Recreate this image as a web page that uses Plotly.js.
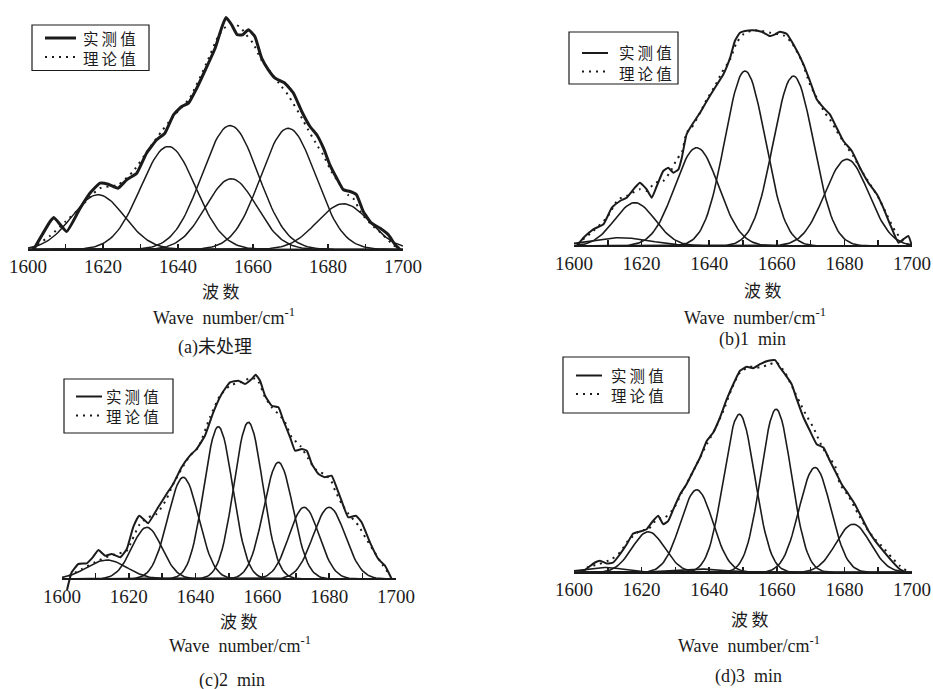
<!DOCTYPE html>
<html><head><meta charset="utf-8">
<script src="https://cdn.plot.ly/plotly-3.0.1.min.js"></script>
<style>html,body{margin:0;padding:0;background:#fff}#chart{width:933px;height:689px}</style>
</head><body><div id="chart"></div>
<script>
// ---------- (a) 未处理 ----------
const aWave = [1601.5,1605.9,1606.9,1610.3,1613.9,1616.5,1619.2,1621.4,1624,1626.3,1629,1631.6,1634.3,1636.5,1638.8,1641,1642.8,1645,1647.7,1649.9,1651.6,1652.8,1654.3,1655.8,1657.2,1658.8,1660.5,1662.3,1664.1,1665.9,1668.5,1670.8,1673,1675.2,1677,1678.8,1680.5,1682.3,1684.1,1685.9,1687.6,1689.4,1691.6,1693.9,1696.1,1697.9,1699.2];
const aMeasured = [0,28,32,18,41.3,56.3,66.3,65.3,61.3,69.7,76.3,96.3,109.7,116.3,134.7,143,146.3,161.3,183,201.3,221.3,232,224.7,214.7,214.7,219.7,213,191.3,179.7,171.3,166.3,156.3,138,123,114.7,101.3,84.7,71.5,59.7,58,54.7,38,26.3,21.3,14.7,4.7,0];
const aFitWave = [1601,1606,1610,1614,1616.5,1619.2,1621.5,1624.1,1628,1632.4,1635.6,1639.1,1643.1,1647.6,1650.7,1652.3,1654.2,1656.4,1658.2,1660,1662.2,1664.2,1667.6,1669.3,1673.3,1674.7,1677.3,1678.7,1680.9,1682.7,1685.3,1686.7,1688.9,1691.6,1694.2,1696.9,1698.7];
const aFit = [1,14,28,42,53,61.3,63,64.7,78,101.3,118,134.7,151.3,186.3,213,221.3,225.3,223,214.7,206.3,189.7,179.7,163,154.7,129.7,119.7,103,94.7,78,68,54.7,51.3,36.3,24.7,16.3,6.3,0.7];
const aPeakCenter = [1618.7,1637.4,1653.9,1654.2,1669.4,1684.1];
const aPeakHeight = [54.7,103,124,70.7,121.3,45.7];
const aPeakWidth  = [7,7.3,7.5,6.8,7.3,7];

// ---------- (b) 1 min ----------
const bWave = [1600.8,1602.8,1605.7,1608.7,1611.2,1613.6,1615.6,1618,1619.5,1621.5,1623,1624.5,1626.4,1627.9,1629.4,1630.9,1631.9,1633.3,1635.3,1637.3,1639.3,1641.7,1644.2,1646.2,1647.6,1649.1,1650.6,1653,1655.5,1658,1659.5,1660.9,1662.9,1664.9,1667.9,1669.8,1671.8,1673.8,1675.7,1677.7,1679.7,1682.2,1684.6,1687.1,1689.6,1691.5,1693.5,1696,1697.4,1698.9,1700];
const bMeasured = [0,8.3,16.7,21.7,38.3,45,48.3,58.3,63.3,56.7,48.3,60,75,78.3,73.3,76.7,88.3,111.7,123.3,133.3,145,158.3,171.7,188.3,205,213.3,215,215.7,214.3,210,211.7,214.3,212.3,201.7,181.7,165,146.7,138.3,131.7,118.3,105,95,78.3,63.3,51.7,38.3,21.7,3.3,6.7,10,0];
const bFitWave = [1601,1605.7,1609.7,1613.1,1615.6,1619.5,1621.5,1624,1626.4,1628.9,1630.4,1631.9,1633.3,1634.8,1637.3,1639.3,1641.7,1643.7,1646.2,1648.1,1650.1,1653,1655.5,1658,1660.4,1662.4,1664.4,1667.4,1669.8,1671.8,1674.2,1675.7,1677.7,1680.2,1682.6,1685.1,1687.6,1690.1,1692.5,1695,1697.4,1699.4];
const bFit = [2,15,28.3,46.7,50,56.7,55,63.3,65,76.7,86.7,93.3,113.3,118.3,133.3,146.7,160,173.3,186.7,203.3,211.7,215.7,215,213.3,211.7,210,203.3,185,161.7,148.3,133.3,126.7,115,101.7,90,75,61.7,48.3,31.7,15,5,0];
const bPeakCenter = [1613.6,1618,1636.3,1650.6,1664.9,1680.7];
const bPeakHeight = [8.3,43.3,98.3,175,170,86.7];
const bPeakWidth  = [9,6,6.5,6,6,6.5];

// ---------- (c) 2 min ----------
const cWave = [1601.5,1602.9,1604.9,1607.4,1609.2,1610.9,1612.9,1614.9,1617.4,1619.4,1621.3,1623.1,1624.9,1625.8,1628.8,1631.3,1633.3,1635.8,1638.3,1640.3,1642.8,1645.3,1647.8,1650.3,1652.8,1654.8,1656.8,1658,1659.3,1660.8,1662.8,1664.8,1666.3,1668.3,1669.8,1671.8,1673.3,1674.8,1676.8,1678.7,1680.7,1682.2,1683.7,1685.7,1688,1689.7,1692.2,1694.7,1696.7,1698.7];
const cMeasured = [-11,6.7,15,15.7,21.7,29,23.3,25,21.7,30,51.7,63.3,58.3,55.7,71.7,85,95,111.7,123.3,130,143.3,166.7,185,196.7,198.3,195,200,204.3,198.3,183.3,173.3,171.7,158.3,141.7,128.3,130,128.3,115,105,101.7,103.3,91.7,78.3,61.7,63.3,56.7,36.7,20,13.3,0];
const cFitWave = [1602,1606,1610,1614.3,1616.3,1619.4,1620.9,1623.3,1625.8,1628.3,1631.3,1633.3,1635.8,1638.3,1640.8,1644.3,1647.3,1650.3,1653.3,1655.8,1658.3,1660.8,1662.8,1665.3,1666.8,1668.8,1671.3,1673.8,1675.8,1678.3,1680.3,1681.8,1683.8,1685.8,1688.8,1690.8,1693.3,1695.8,1698.3];
const cFit = [3,10,17,23.3,25,28.3,38.3,55,61.7,65,80,95,110,123.3,131.7,161.7,183.3,193.3,196.7,200,200,181.7,171.7,163.3,156.7,141.7,133.3,120,110,105,100,88.3,75,65,53.3,41.7,28.3,15,3.3];
const cPeakCenter = [1613.4,1625.4,1636.3,1646.8,1655.8,1664.8,1672.5,1680];
const cPeakHeight = [19,51.7,101.7,152.3,156.7,116.7,71.7,71.7];
const cPeakWidth  = [6,4.5,4.6,4.3,4.3,4.4,4.5,4.8];

// ---------- (d) 3 min ----------
const dWave = [1602.3,1604.2,1606.2,1607.7,1609.7,1611.6,1613.6,1615.6,1617.5,1619.5,1621.5,1623,1624.9,1626.4,1627.9,1629.4,1631.4,1633.3,1635.3,1637.3,1639.3,1641.2,1643.2,1645.2,1647.6,1649.1,1651.1,1653,1655,1657.5,1659.5,1660.9,1662.4,1664.4,1665.9,1667.9,1669.8,1671.8,1673.8,1675.7,1677.2,1679.2,1681.2,1683.1,1685.1,1687.1,1689.1,1691.5,1694,1696.4,1698.4];
const dMeasured = [0,5,10,11.7,9,10,18.3,28.3,39,41,43.3,50,56.7,48.3,51.7,63.3,78.3,88.3,101.7,115,131.7,140,155,173.3,191.7,201.7,205.7,204.3,208.3,211.7,212.3,205,198.3,188.3,173.3,155,141.7,128.3,125,111.7,101.7,88.3,78.3,68.3,55,41.7,31.7,21.7,11.7,3.3,0];
const dFitWave = [1602,1604.4,1607.3,1611.1,1613.6,1616,1619.5,1622,1624.5,1626.9,1629.4,1631.9,1634.3,1636.3,1639.3,1641.7,1644.2,1646.6,1649.1,1652,1655,1657.9,1659.9,1662.4,1664.9,1666.8,1668.8,1670.8,1672.8,1674.7,1677.2,1678.7,1681.2,1684.1,1686.1,1688.6,1691,1694,1696.4,1698.4];
const dFit = [1,5.7,8.3,13.3,20,31.7,41.7,43.3,53.3,55,63.3,80,95,108.3,128.3,143.3,161.7,183.3,200,205.7,205,208.3,210,200,183.3,170,156.7,145,130,118.3,106.7,88.3,76.7,58.3,46.7,35,26.7,15,6.7,1.7];
const dPeakCenter = [1609,1622,1636.3,1636.3,1648.9,1659.8,1671.3,1682.6];
const dPeakHeight = [5,40.7,3.5,82.7,158.3,163.3,105,48.3];
const dPeakWidth  = [6,4.8,8,4.8,4.6,4.5,4.7,5.1];

const tickVals = [1600,1620,1640,1660,1680,1700];
const tickText = ['1600','1620','1640','1660','1680','1700'];
const legendNames = ['实\u2009测\u2009值','理\u2009论\u2009值'];
const captions = ['(a)未处理','(b)1\u00a0\u00a0min','(c)2\u00a0\u00a0min','(d)3\u00a0\u00a0min'];
const xTitleCn = '波\u2009数';
const xTitleEn = 'Wave\u00a0\u00a0number/cm<sup>-1</sup>';

// ---------- layout ----------
const W = 933, H = 689;
const FONT = 'Liberation Serif, DejaVu Serif, Noto Sans CJK SC, serif';
const CJK = 'Noto Sans CJK SC, Liberation Serif, serif';
const INK = '#1b1b1b';

const panels = [
  {wave:aWave, meas:aMeasured, fw:aFitWave, fit:aFit, pc:aPeakCenter, ph:aPeakHeight, pw:aPeakWidth,
   x0:28, x1:403, base:249.5, top:8, measW:3, compW:1.5,
   box:[32,25,149,70.5], l1:[45,76,38], l2:[45,76,57], tx:82, ty:[37.5,57.5],
   cn:[220,291], en:[224,316], cap:[215,347]},
  {wave:bWave, meas:bMeasured, fw:bFitWave, fit:bFit, pc:bPeakCenter, ph:bPeakHeight, pw:bPeakWidth,
   x0:574, x1:912, base:246, top:8, measW:2, compW:1.6,
   box:[569,32,678,84], l1:[582,608,53], l2:[582,608,71.5], tx:618, ty:[52.5,72.5],
   cn:[762,289], en:[755,317], cap:[752,339]},
  {wave:cWave, meas:cMeasured, fw:cFitWave, fit:cFit, pc:cPeakCenter, ph:cPeakHeight, pw:cPeakWidth,
   x0:62, x1:396, base:579, top:360, measW:2, compW:1.6,
   box:[64,379,173,433], l1:[76,102,396.5], l2:[76,102,415.5], tx:105, ty:[396,416],
   cn:[239,620], en:[240,644], cap:[232,680]},
  {wave:dWave, meas:dMeasured, fw:dFitWave, fit:dFit, pc:dPeakCenter, ph:dPeakHeight, pw:dPeakWidth,
   x0:574, x1:912, base:572.5, top:355, measW:2, compW:1.6,
   box:[563,357,689,413], l1:[576,602,375.5], l2:[576,602,394], tx:610, ty:[375,395],
   cn:[749,618], en:[749,644], cap:[748,676]}
];

function gaussian(c, h, s) {
  const xs = [], ys = [];
  for (let x = 1600; x <= 1700.001; x += 0.5) {
    xs.push(x);
    ys.push(h * Math.exp(-((x - c) * (x - c)) / (2 * s * s)));
  }
  return {xs, ys};
}

const px = v => v / W;
const py = v => 1 - v / H;

const traces = [];
const layout = {
  width: W, height: H, margin: {l:0, r:0, t:0, b:0},
  paper_bgcolor: '#fff', plot_bgcolor: 'rgba(0,0,0,0)',
  font: {family: FONT, color: INK},
  showlegend: false, annotations: [], shapes: []
};

panels.forEach((p, i) => {
  const n = i === 0 ? '' : String(i + 1);
  const xa = 'x' + n, ya = 'y' + n;
  p.pc.forEach((c, k) => {
    const g = gaussian(c, p.ph[k], p.pw[k]);
    traces.push({type:'scatter', mode:'lines', x:g.xs, y:g.ys, xaxis:xa, yaxis:ya,
      line:{color:INK, width:p.compW}, showlegend:false, hoverinfo:'skip'});
  });
  traces.push({type:'scatter', mode:'lines', name:legendNames[0], x:p.wave, y:p.meas,
    xaxis:xa, yaxis:ya, line:{color:INK, width:p.measW, shape:'spline', smoothing:0.4}});
  traces.push({type:'scatter', mode:'lines', name:legendNames[1], x:p.fw, y:p.fit,
    xaxis:xa, yaxis:ya, line:{color:INK, width:2, dash:'2px,5px', shape:'spline', smoothing:0.6}});

  const below = 12;
  layout['xaxis' + n] = {
    domain:[p.x0 / W, p.x1 / W], range:[1600,1700], anchor:'free',
    position:(H - p.base) / H, showline:true, linewidth:2, linecolor:INK,
    ticks:'inside', ticklen:5, tickwidth:1.5, tickcolor:INK,
    tickmode:'array', tickvals:tickVals, ticktext:tickText,
    minor:{tickmode:'linear', tick0:1600, dtick:10, ticks:'inside', ticklen:5, tickwidth:1.5, tickcolor:INK},
    showgrid:false, zeroline:false, fixedrange:true,
    tickfont:{family:FONT, size:19, color:INK}
  };
  layout['yaxis' + n] = {
    domain:[(H - p.base - below) / H, (H - p.top) / H],
    range:[-below, p.base - p.top], visible:false, showgrid:false, zeroline:false, fixedrange:true
  };

  // framed key
  layout.shapes.push(
    {type:'rect', xref:'paper', yref:'paper', x0:px(p.box[0]), x1:px(p.box[2]), y0:py(p.box[3]), y1:py(p.box[1]),
     line:{color:INK, width:1.2}, fillcolor:'#fff', layer:'above'},
    {type:'line', xref:'paper', yref:'paper', x0:px(p.l1[0]), x1:px(p.l1[1]), y0:py(p.l1[2]), y1:py(p.l1[2]),
     line:{color:INK, width:p.measW}, layer:'above'},
    {type:'line', xref:'paper', yref:'paper', x0:px(p.l2[0]), x1:px(p.l2[1]), y0:py(p.l2[2]), y1:py(p.l2[2]),
     line:{color:INK, width:2, dash:'2px,5px'}, layer:'above'}
  );
  legendNames.forEach((nm, k) => {
    layout.annotations.push({xref:'paper', yref:'paper', x:px(p.tx), y:py(p.ty[k]), text:nm, showarrow:false,
      xanchor:'left', yanchor:'middle', borderpad:0, font:{family:CJK, size:15.5, color:INK}});
  });

  layout.annotations.push(
    {xref:'paper', yref:'paper', x:px(p.cn[0]), y:py(p.cn[1]), text:xTitleCn, showarrow:false,
     xanchor:'center', yanchor:'middle', font:{family:CJK, size:17, color:INK}},
    {xref:'paper', yref:'paper', x:px(p.en[0]), y:py(p.en[1]), text:xTitleEn, showarrow:false,
     xanchor:'center', yanchor:'middle', font:{family:FONT, size:18, color:INK}},
    {xref:'paper', yref:'paper', x:px(p.cap[0]), y:py(p.cap[1]), text:captions[i], showarrow:false,
     xanchor:'center', yanchor:'middle', font:{family:FONT, size:18, color:INK}}
  );
});

Plotly.newPlot('chart', traces, layout, {staticPlot:true, displayModeBar:false});
</script>
</body></html>
